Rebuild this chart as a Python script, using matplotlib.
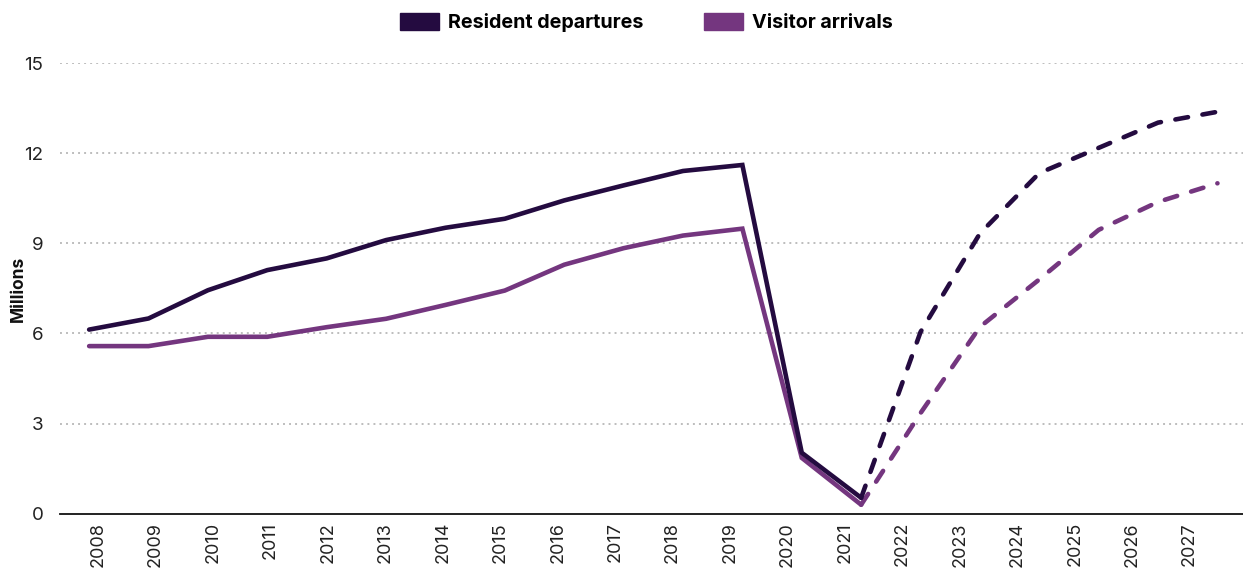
import matplotlib

matplotlib.use("Agg")
import matplotlib.pyplot as plt  # noqa: E402
import numpy as np  # noqa: E402
from matplotlib.patches import Patch  # noqa: E402

RESIDENT_C = "#240B40"
VISITOR_C = "#74367F"
GRID_C = "#BDBDBD"
INK = "#222222"

years = list(range(2008, 2028))
resident = [6.13, 6.50, 7.44, 8.11, 8.50, 9.11, 9.52, 9.82, 10.43, 10.93,
            11.41, 11.61, 2.03, 0.53, 6.05, 9.33, 11.34, 12.18, 13.02, 13.38]
visitor = [5.58, 5.58, 5.89, 5.89, 6.21, 6.49, 6.95, 7.43, 8.29, 8.84,
           9.26, 9.49, 1.86, 0.30, 3.35, 6.22, 7.80, 9.45, 10.38, 11.00]
last_actual = 2021
yticks = [0, 3, 6, 9, 12, 15]

plt.rcParams["font.family"] = ["Inter", "DejaVu Sans"]

fig = plt.figure(figsize=(12.43, 5.74), dpi=100)
ax = fig.add_axes([0.0483, 0.105, 0.9517, 0.785])

x = np.array(years)
split = years.index(last_actual) + 1
for vals, col in ((visitor, VISITOR_C), (resident, RESIDENT_C)):
    v = np.array(vals)
    ax.plot(x[:split], v[:split], color=col, lw=3.3, solid_capstyle="round",
            solid_joinstyle="miter", zorder=3)
    ax.plot(x[split - 1:], v[split - 1:], color=col, lw=3.3,
            dashes=(2.8, 3.2), dash_capstyle="round", zorder=3)

ax.set_xlim(years[0] - 0.49, years[-1] + 0.43)
ax.set_ylim(0, 15)
ax.set_yticks(yticks)
ax.set_yticklabels([str(t) for t in yticks], fontsize=13.5, color=INK)
for t in yticks[1:]:
    ax.axhline(t, color=GRID_C, lw=1.4, ls=(0, (1.0, 2.1)), zorder=1)

tick_pos = np.linspace(years[0] + 0.15, years[-1] - 0.47, len(years))
ax.set_xticks(tick_pos)
ax.set_xticklabels([str(y) for y in years], rotation=90, fontsize=13,
                   color=INK, va="top", ha="center")
ax.tick_params(axis="both", length=0)
ax.tick_params(axis="x", pad=6)
ax.tick_params(axis="y", pad=12)

for s in ("top", "right", "left"):
    ax.spines[s].set_visible(False)
ax.spines["bottom"].set_color("#111111")
ax.spines["bottom"].set_linewidth(1.3)

ax.set_ylabel("Millions", fontsize=12.5, fontweight="bold", color="#111111",
              labelpad=-2)

handles = [Patch(color=RESIDENT_C, label="Resident departures"),
           Patch(color=VISITOR_C, label="Visitor arrivals")]
fig.legend(handles=handles, loc="upper center", bbox_to_anchor=(0.52, 1.008),
           ncol=2, frameon=False, handlelength=1.95, handleheight=0.95,
           columnspacing=3.1, handletextpad=0.45,
           prop={"size": 14.2, "weight": "bold"})

fig.savefig("out.png", dpi=100)
